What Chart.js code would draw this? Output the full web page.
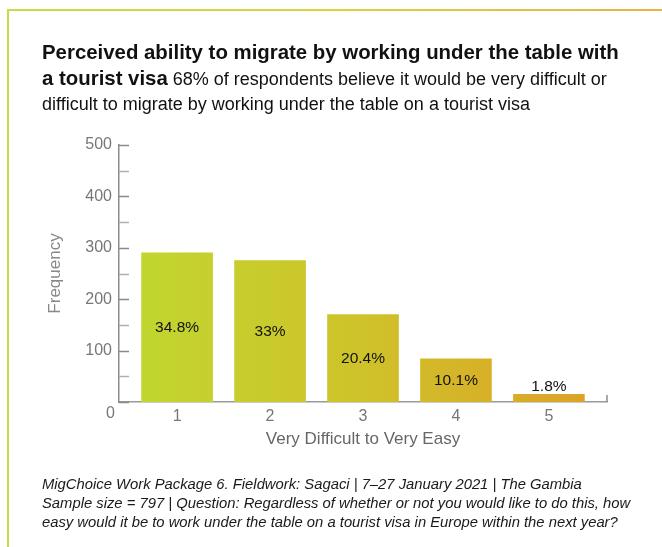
<!DOCTYPE html>
<html>
<head>
<meta charset="utf-8">
<script src="https://cdn.jsdelivr.net/npm/chart.js@4.4.1/dist/chart.umd.min.js"></script>
<style>
  html, body { margin: 0; padding: 0; background: #fff; }
  body { width: 662px; height: 547px; position: relative; overflow: hidden;
         font-family: "Liberation Sans", Arial, Helvetica, sans-serif; }
  #chart { position: absolute; left: 0; top: 0; }
  .frame-top { position: absolute; left: 7px; top: 9px; width: 655px; height: 2px;
               background: linear-gradient(to right, #c6dc46, #d9d43c 50%, #e8b24a); }
  .frame-left { position: absolute; left: 7px; top: 9px; width: 2px; height: 538px; background: #c6dc46; }
  .heading { position: absolute; left: 42px; top: 40px; width: 610px; color: #111;
             font-size: 18px; line-height: 25px; }
  .heading b { font-size: 20.4px; }
  .note { position: absolute; left: 42px; top: 475px; width: 615px; color: #1a1a1a;
          font-size: 14.8px; line-height: 19px; font-style: italic; }
</style>
</head>
<body>
<canvas id="chart" width="662" height="547"></canvas>
<div class="frame-top"></div>
<div class="frame-left"></div>
<div class="heading"><b>Perceived ability to migrate by working under the table with<br>a tourist visa</b> 68% of respondents believe it would be very difficult or<br>difficult to migrate by working under the table on a tourist visa</div>
<div class="note">MigChoice Work Package 6. Fieldwork: Sagaci | 7–27 January 2021 | The Gambia<br>Sample size = 797 | Question: Regardless of whether or not you would like to do this, how<br>easy would it be to work under the table on a tourist visa in Europe within the next year?</div>
<script>
// answers on a 1-5 scale, 1 = very difficult, 5 = very easy
const categories = [1, 2, 3, 4, 5];
const frequencies = [290, 275, 170, 84, 15];
const yTicks = [0, 100, 200, 300, 400, 500];

const total = frequencies.reduce((a, b) => a + b, 0);
const shares = frequencies.map(f => {
  const p = (f / total * 100).toFixed(1);
  return (p.endsWith('.0') ? p.slice(0, -2) : p) + '%';
});

const axisGrey = '#8c8c8c';
const labelGrey = '#777';

// bars share one left-to-right green→amber gradient across the plot
function barFill(context) {
  const { chart } = context;
  const area = chart.chartArea;
  if (!area) return '#c9c72c';
  const g = chart.ctx.createLinearGradient(area.left, 0, area.right, 0);
  g.addColorStop(0, '#c0d830');
  g.addColorStop(0.5, '#cfc22a');
  g.addColorStop(1, '#dea026');
  return g;
}

// inward tick marks, the "0" under the corner and the end tick on the x axis
const axisMarks = {
  id: 'axisMarks',
  afterDraw(chart) {
    const { ctx, chartArea, scales } = chart;
    const y = scales.y;
    ctx.save();
    for (let v = 0; v <= 500; v += 50) {
      const py = Math.round(y.getPixelForValue(v)) + 0.5;
      ctx.strokeStyle = v % 100 === 0 ? '#8a8a8a' : '#b0b0b0';
      ctx.lineWidth = 1.5;
      ctx.beginPath();
      ctx.moveTo(chartArea.left, py);
      ctx.lineTo(chartArea.left + 10, py);
      ctx.stroke();
    }
    ctx.strokeStyle = axisGrey;
    ctx.beginPath();
    ctx.moveTo(chartArea.right, chartArea.bottom);
    ctx.lineTo(chartArea.right, chartArea.bottom - 7);
    ctx.stroke();
    ctx.fillStyle = labelGrey;
    ctx.font = '16px "Liberation Sans", Arial, sans-serif';
    ctx.textAlign = 'center';
    ctx.textBaseline = 'middle';
    ctx.fillText('0', chartArea.left - 8.5, y.getPixelForValue(0) + 12);
    ctx.restore();
  }
};

// percentage of respondents, centred in each bar (above it when too short)
const shareLabels = {
  id: 'shareLabels',
  afterDatasetsDraw(chart) {
    const { ctx } = chart;
    const meta = chart.getDatasetMeta(0);
    ctx.save();
    ctx.fillStyle = '#111';
    ctx.font = '15.5px "Liberation Sans", Arial, sans-serif';
    ctx.textAlign = 'center';
    ctx.textBaseline = 'middle';
    meta.data.forEach((bar, i) => {
      const h = bar.base - bar.y;
      const ty = h < 22 ? bar.y - 8 : bar.y + h / 2;
      ctx.fillText(shares[i], bar.x, ty);
    });
    ctx.restore();
  }
};

new Chart(document.getElementById('chart'), {
  type: 'bar',
  data: {
    datasets: [{
      data: categories.map((c, i) => ({ x: c, y: frequencies[i] })),
      backgroundColor: barFill,
      borderWidth: 0,
      barThickness: 71
    }]
  },
  options: {
    responsive: false,
    animation: false,
    layout: { padding: { left: 0, right: 55, top: 145, bottom: 95 } },
    plugins: {
      legend: { display: false },
      tooltip: { enabled: false }
    },
    scales: {
      x: {
        type: 'linear',
        offset: false,
        min: 0.375,
        max: 5.625,
        afterBuildTicks: scale => { scale.ticks = categories.map(v => ({ value: v })); },
        afterFit: scale => { scale.height = 50; },
        grid: { display: false, drawTicks: false },
        border: { display: true, color: '#9a9a9a', width: 1.5 },
        ticks: {
          color: labelGrey,
          padding: 5,
          font: { size: 16, family: '"Liberation Sans", Arial, sans-serif' }
        },
        title: {
          display: true,
          text: 'Very Difficult to Very Easy',
          color: '#666',
          padding: { bottom: 2 },
          font: { size: 17, family: '"Liberation Sans", Arial, sans-serif' }
        }
      },
      y: {
        min: 0,
        max: 500,
        afterBuildTicks: scale => { scale.ticks = yTicks.map(v => ({ value: v })); },
        afterFit: scale => { scale.width = 119; },
        grid: { display: false, drawTicks: false },
        border: { display: true, color: axisGrey, width: 1.5 },
        ticks: {
          color: labelGrey,
          padding: 7,
          callback: v => (v === 0 ? '' : v),
          font: { size: 16, family: '"Liberation Sans", Arial, sans-serif' }
        },
        title: {
          display: true,
          text: 'Frequency',
          color: '#888',
          padding: { top: 45 },
          font: { size: 17, family: '"Liberation Sans", Arial, sans-serif' }
        }
      }
    }
  },
  plugins: [axisMarks, shareLabels]
});
</script>
</body>
</html>
